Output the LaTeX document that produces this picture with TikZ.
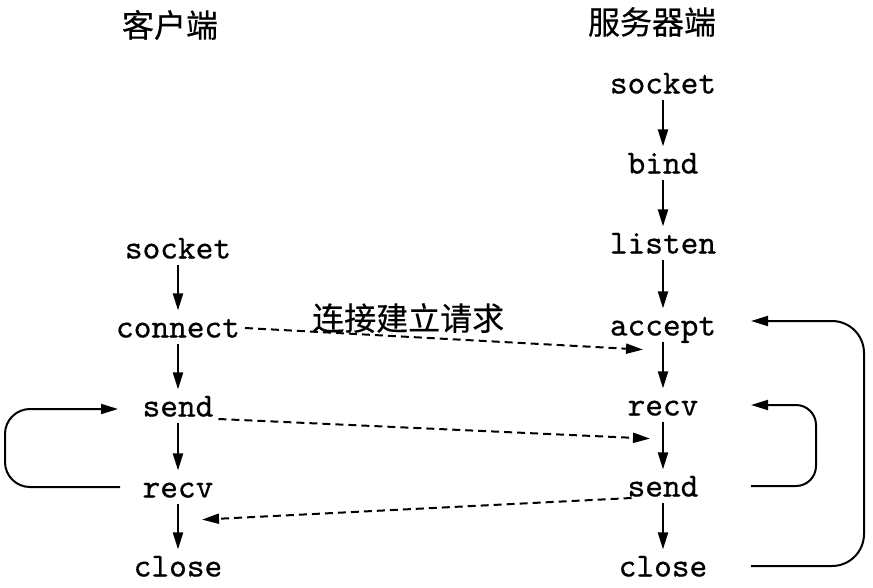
\documentclass[tikz,border=0pt]{standalone}
\usepackage{fontspec}
\setmonofont[FakeBold=0.6]{lmmono10-regular.otf}
\newfontfamily\cjk[FakeBold=0.4]{Noto Sans CJK SC}
\usetikzlibrary{arrows.meta,calc}
\begin{document}
\begin{tikzpicture}[x=1pt,y=-1pt, line width=2.2pt,
  fn/.style={font=\fontsize{33.7}{34}\selectfont\ttfamily, text height=25pt, text depth=4pt, inner sep=1pt},
  title/.style={font=\fontsize{32}{34}\selectfont\cjk, inner sep=0pt},
  arr/.style={-{Triangle[length=17pt,width=10pt]}},
  dsh/.style={arr, dash pattern=on 8pt off 5pt, line width=2pt},
  loopline/.style={arr, line width=2pt}
]
\useasboundingbox (0,0) rectangle (873,587);
% titles
\node[title] (tc) at (170,25) {客户端};
\node[title] (ts) at (652,22) {服务器端};
% client
\node[fn] (csocket)  at (178,248) {socket};
\node[fn] (cconnect) at (178,327) {connect};
\node[fn] (csend)    at (178,406) {send};
\node[fn] (crecv)    at (178,487) {recv};
\node[fn] (cclose)   at (178,566) {close};
% server
\node[fn] (ssocket) at (663,83) {socket};
\node[fn] (sbind)   at (663,163) {bind};
\node[fn] (slisten) at (663,243) {listen};
\node[fn] (saccept) at (663,325) {accept};
\node[fn] (srecv)   at (663,405) {recv};
\node[fn] (ssend)   at (663,486) {send};
\node[fn] (sclose)  at (663,566) {close};
% vertical arrows
\foreach \a/\b in {csocket/cconnect, cconnect/csend, csend/crecv, crecv/cclose,
  ssocket/sbind, sbind/slisten, slisten/saccept, saccept/srecv, srecv/ssend, ssend/sclose}
  \draw[arr] (\a.south) -- (\b.north);
% dashed messages
\draw[dsh] ([xshift=3pt,yshift=-1pt]cconnect.east) -- ([xshift=-20pt,yshift=-8pt]saccept.south)
  node[pos=0.41, above=3pt, title] (lbl) {连接建立请求};
\draw[dsh] ([xshift=3pt,yshift=-13pt]csend.east) -- ([xshift=-13pt,yshift=-17pt]srecv.south);
\draw[dsh] ([xshift=6pt,yshift=-12pt]ssend.west) -- ([xshift=24pt,yshift=-16pt]crecv.south);
% loops
\coordinate (lx) at (120,0);
\coordinate (lxa) at (118,0);
\coordinate (rx) at (751,0);
\draw[loopline, rounded corners=25pt] (crecv -| lx) -- ++(-115,0) |- ($(csend -| lxa)+(0,3)$);
\draw[loopline, rounded corners=20pt] (ssend -| rx) -- ++(65,0) |- (srecv -| rx);
\draw[loopline, rounded corners=32pt] (sclose -| rx) -- ++(113,0) |- ($(saccept -| rx)+(0,-4)$);
\end{tikzpicture}
\end{document}
